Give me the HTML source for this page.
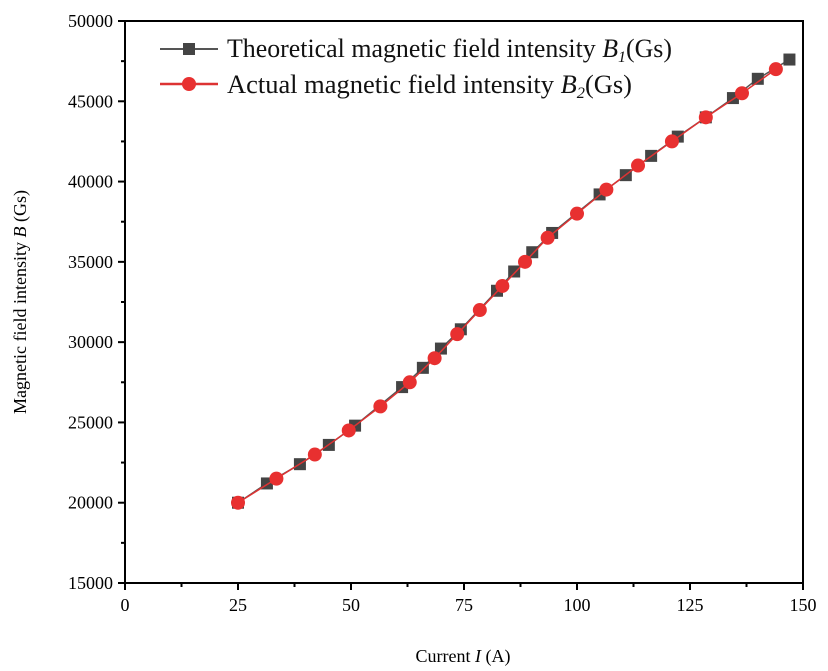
<!DOCTYPE html>
<html><head><meta charset="utf-8"><style>
body{margin:0;background:#fff;}
svg{display:block;font-family:"Liberation Serif",serif;}
</style></head><body>
<svg id="chart" width="828" height="671">
<g id="axes"></g><g id="series"></g>
<g>
<line x1="160" y1="49" x2="218" y2="49" stroke="#555" stroke-width="2"/>
<rect x="183" y="43" width="12" height="12" fill="#444"/>
<text x="227" y="57" font-size="26" fill="#111" textLength="445" lengthAdjust="spacingAndGlyphs">Theoretical  magnetic field intensity <tspan font-style="italic">B</tspan><tspan font-style="italic" font-size="16" dy="5">1</tspan><tspan dy="-5">(Gs)</tspan></text>
<line x1="160" y1="84" x2="218" y2="84" stroke="#d33" stroke-width="2.5"/>
<circle cx="189" cy="84" r="7" fill="#e83030"/>
<text x="227" y="93" font-size="26" fill="#111" textLength="405" lengthAdjust="spacingAndGlyphs">Actual magnetic field intensity <tspan font-style="italic">B</tspan><tspan font-style="italic" font-size="16" dy="5">2</tspan><tspan dy="-5">(Gs)</tspan></text>
</g>
<text x="463" y="662" font-size="18" text-anchor="middle">Current <tspan font-style="italic">I</tspan> (A)</text>
<text transform="translate(26,302) rotate(-90)" font-size="18" text-anchor="middle">Magnetic field intensity <tspan font-style="italic">B</tspan> (Gs)</text>
</svg>
<script>
const xTicks=[0,25,50,75,100,125,150];
const yTicks=[15000,20000,25000,30000,35000,40000,45000,50000];
const thX=[25,31.4,38.7,45.1,50.9,61.3,65.9,69.9,74.3,82.3,86.1,90.1,94.5,105,110.8,116.4,122.3,128.5,134.5,140,147];
const thY=[20000,21200,22400,23600,24800,27200,28400,29600,30800,33200,34400,35600,36800,39200,40400,41600,42800,44000,45200,46400,47600];
const acX=[25,33.5,42,49.5,56.5,63,68.5,73.5,78.5,83.5,88.5,93.5,100,106.5,113.5,121,128.5,136.5,144];
const acY=[20000,21500,23000,24500,26000,27500,29000,30500,32000,33500,35000,36500,38000,39500,41000,42500,44000,45500,47000];
const X0=125,X1=803,Y0=583,Y1=21;
const sx=v=>X0+(v-0)/150*(X1-X0);
const sy=v=>Y0-(v-15000)/35000*(Y0-Y1);
const NS="http://www.w3.org/2000/svg";
const ax=document.getElementById('axes'),se=document.getElementById('series');
function mk(tag,attrs,parent){const e=document.createElementNS(NS,tag);for(const k in attrs)e.setAttribute(k,attrs[k]);parent.appendChild(e);return e;}
let f=mk('rect',{x:X0,y:Y1,width:X1-X0,height:Y0-Y1,fill:'none',stroke:'#000','stroke-width':2},ax);


xTicks.forEach((t,i)=>{
  mk('line',{x1:sx(t),x2:sx(t),y1:Y0,y2:Y0+7,stroke:'#000','stroke-width':2},ax);
  if(i<xTicks.length-1)mk('line',{x1:sx(t+12.5),x2:sx(t+12.5),y1:Y0,y2:Y0+4,stroke:'#000','stroke-width':2},ax);
  const tx=mk('text',{x:sx(t),y:Y0+28,'font-size':18,'text-anchor':'middle'},ax);tx.textContent=t;
  
  
});
yTicks.forEach((t,i)=>{
  mk('line',{x1:X0-7,x2:X0,y1:sy(t),y2:sy(t),stroke:'#000','stroke-width':2},ax);
  if(i<yTicks.length-1)mk('line',{x1:X0-4,x2:X0,y1:sy(t+2500),y2:sy(t+2500),stroke:'#000','stroke-width':2},ax);
  const tx=mk('text',{x:X0-12,y:sy(t)+6,'font-size':18,'text-anchor':'end'},ax);tx.textContent=t;
  
  
});
let p1=mk('polyline',{points:thX.map((x,i)=>sx(x)+','+sy(thY[i])).join(' '),fill:'none',stroke:'#555','stroke-width':1.5},se);


thX.forEach((x,i)=>{const r=mk('rect',{x:sx(x)-6,y:sy(thY[i])-6,width:12,height:12,fill:'#444'},se);
  
  });
let p2=mk('polyline',{points:acX.map((x,i)=>sx(x)+','+sy(acY[i])).join(' '),fill:'none',stroke:'#d33','stroke-width':1.5},se);


acX.forEach((x,i)=>{const c=mk('circle',{cx:sx(x),cy:sy(acY[i]),r:7,fill:'#e83030'},se);
  
  });
</script>
</body></html>
